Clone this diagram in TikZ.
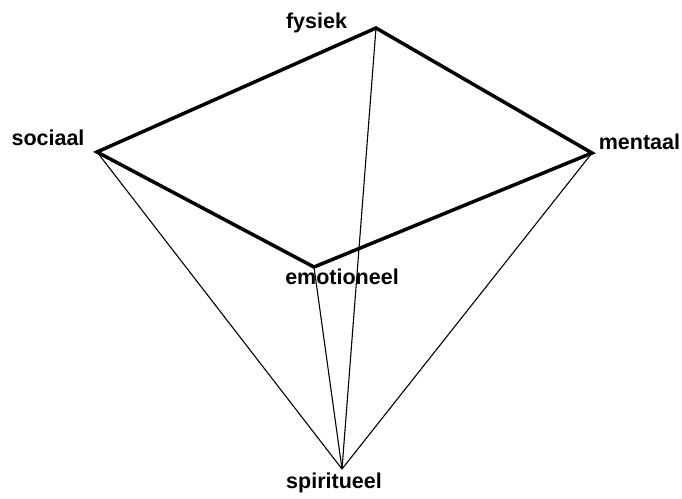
\documentclass[tikz,border=0pt]{standalone}
\usepackage{fontspec}
\setmainfont{Liberation Sans}
\begin{document}
\begin{tikzpicture}[x=1pt,y=-1pt,
  lbl/.style={font=\fontsize{21.5}{22}\selectfont\bfseries, inner sep=0pt, anchor=base},
  thickedge/.style={line width=3.5pt, line join=miter},
  thinedge/.style={line width=1.1pt}]
\useasboundingbox (0,0) rectangle (682,498);
\coordinate (F) at (376,28);
\coordinate (S) at (97,152);
\coordinate (M) at (592,153);
\coordinate (E) at (314,267);
\coordinate (P) at (342,469);
\node[lbl] (lf) at (316.5,28.3) {fysiek};
\node[lbl] (ls) at (48,145.7) {sociaal};
\node[lbl] (lm) at (639.5,149) {mentaal};
\node[lbl] (le) at (342,284) {emotioneel};
\node[lbl] (lp) at (334,488.3) {spiritueel};
\draw[thinedge] (F) -- (P);
\draw[thinedge] (S) -- (P);
\draw[thinedge] (M) -- (P);
\draw[thinedge] (E) -- (P);
\draw[thickedge] (S) -- (F) -- (M) -- (E) -- cycle;
\end{tikzpicture}
\end{document}
